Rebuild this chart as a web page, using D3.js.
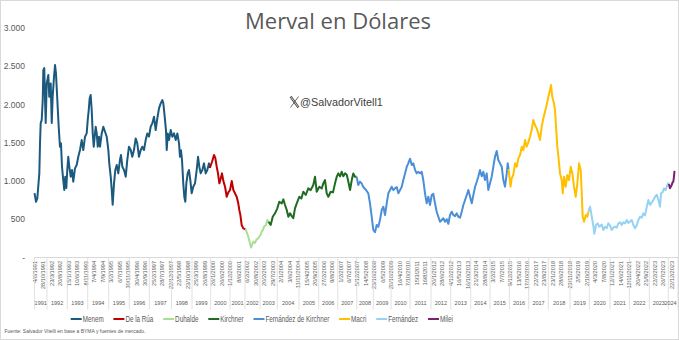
<!DOCTYPE html>
<html><head><meta charset="utf-8">
<script src="https://cdn.jsdelivr.net/npm/d3@7"></script>
<style>
html,body{margin:0;padding:0;background:#fff;}
svg{display:block;font-family:'Liberation Sans',Arial,sans-serif;}
</style></head><body>
<svg id="chart" width="679" height="340"></svg>
<script>
// ---------------- DATA ----------------
const chartTitle = "Merval en Dólares";
const handle = "@SalvadorVitell1";
const sourceNote = "Fuente: Salvador Vitelli en base a BYMA y fuentes de mercado.";

const presidents = ["Menem", "De la Rúa", "Duhalde", "Kirchner", "Fernández de Kirchner", "Macri", "Fernández", "Milei"];
// trading-day index (category position) at which each term starts
const presidentStart = [0, 2066, 2485, 2757, 3795, 5586, 6527, 7475];
const presidentColors = ["#1b5a7e", "#c00000", "#a9de95", "#1e6b22", "#4a8fd8", "#ffc000", "#93d3f3", "#7a216f"];

// sampled series: trading-day index and Merval in USD
const day = [
  0,18,33,57,65,73,85,97,104,115,124,132,144,163,174,191,203,214,230,242,253,269,285,300,312,324,339,351,363,375,386,398,410,427,442,457,477,497,516,536,556,575,595,615,627,639,650,662,674,686,698,709,721,733,745,760,772,792,811,831,851,870,881,898,910,921,937,952,969,987,1007,1019,1035,1055,1075,1093,1113,1134,1152,1172,1192,1211,1231,1251,1270,1290,1310,1329,1349,1369,1388,1408,1428,1447,1467,1487,1506,1518,1534,1549,1558,1570,1585,1605,1624,1644,1664,1683,1703,1714,1726,1738,1753,1765,1777,1789,1805,1820,1836,1852,1871,1891,1911,1927,1942,1958,1977,1997,2017,2036,2056,2066,
  2092,2115,2130,2147,2162,2178,2194,2209,2225,2245,2265,2284,2304,2324,2343,2362,2383,2401,2413,2425,2441,2460,2485,
  2498,2519,2539,2551,2566,2578,2598,2618,2637,2649,2665,2677,2692,2704,2728,2743,2757,
  2783,2807,2834,2861,2884,2913,2932,2952,2972,2991,3011,3031,3049,3069,3090,3120,3144,3167,3196,3226,3254,3285,3305,3325,3356,3384,3403,3423,3443,3462,3490,3517,3541,3561,3580,3600,3620,3639,3659,3679,3698,3718,3738,3756,3776,3795,
  3815,3835,3855,3874,3906,3933,3953,3973,3992,4012,4032,4051,4071,4091,4110,4130,4150,4169,4189,4209,4228,4248,4268,4287,4307,4327,4346,4366,4386,4404,4425,4445,4463,4484,4503,4522,4542,4562,4581,4601,4621,4640,4660,4680,4699,4719,4739,4758,4778,4798,4817,4837,4857,4876,4896,4916,4935,4955,4975,4994,5014,5034,5053,5073,5093,5112,5132,5152,5171,5191,5211,5229,5249,5269,5288,5308,5328,5347,5367,5387,5406,5426,5446,5465,5485,5505,5524,5544,5564,5576,5586,
  5609,5623,5642,5662,5682,5701,5721,5741,5760,5780,5799,5818,5838,5858,5877,5897,5917,5936,5956,5976,5995,6015,6035,6054,6074,6086,6101,6121,6133,6145,6160,6177,6192,6212,6224,6239,6259,6278,6298,6318,6337,6357,6377,6396,6416,6436,6448,6459,6475,6495,6514,6527,
  6546,6566,6586,6596,6616,6636,6655,6683,6702,6722,6742,6761,6781,6801,6820,6840,6860,6879,6899,6919,6938,6958,6978,6997,7017,7037,7056,7076,7096,7115,7135,7155,7174,7194,7214,7233,7253,7273,7292,7312,7332,7351,7370,7382,7400,7417,7435,7449,7465,7475,
  7487,7508,7518,7527,7535,7541
];
const merval = [
  841,728,772,1102,1494,1755,1794,2055,2447,2473,2055,1755,2273,2382,2098,2273,1755,2098,2360,2512,2404,2055,1707,1446,1490,1185,1011,881,1055,907,1142,1315,1185,1055,1142,989,1164,1207,1315,1403,1533,1403,1577,1620,1794,1925,2077,2121,1925,1620,1446,1577,1707,1620,1446,1577,1446,1620,1707,1642,1577,1403,1229,1055,881,690,968,1142,1207,1098,1272,1338,1185,1142,1055,1272,1446,1403,1315,1403,1555,1490,1315,1400,1446,1403,1533,1620,1580,1707,1751,1838,1664,1816,1947,2012,2055,2012,1838,1664,1403,1620,1533,1664,1577,1620,1533,1620,1490,1315,1400,1272,968,793,728,968,1098,1142,1011,838,924,968,1142,1315,1185,1098,1140,1229,1098,1142,1229,1170,
  1250,1338,1300,1185,1098,968,1030,1098,1000,924,793,850,881,1000,881,838,790,707,620,560,424,381,368,
  340,272,185,130,170,207,190,238,250,272,300,337,360,402,424,490,467,
  424,532,577,642,728,707,759,685,620,532,577,540,512,642,707,793,770,859,816,903,880,946,1055,859,924,900,968,1011,838,793,859,850,968,1055,1098,1060,1120,1060,1098,1080,989,881,1011,1098,1055,1055,
  946,990,968,920,881,838,707,532,359,330,424,400,490,620,663,555,707,838,881,924,880,903,920,838,880,924,1011,1098,1185,1229,1290,1207,1230,1142,1098,1120,1098,1120,1011,838,707,793,685,816,830,707,598,532,467,490,512,467,500,440,555,598,555,540,577,532,520,598,685,750,816,881,793,707,816,924,989,1055,1142,1060,1120,1011,1098,881,968,1055,1185,1315,1390,1272,1229,1185,1011,924,1098,1229,1150,
  924,1033,1080,1229,1185,1294,1338,1446,1400,1533,1446,1500,1577,1664,1794,1729,1686,1620,1533,1707,1816,1903,1990,2100,2186,2251,2098,2012,1925,1707,1446,1272,1098,1011,838,1055,924,1077,1011,1185,1100,924,793,968,1229,1142,838,532,467,555,532,600,
  663,532,402,310,424,446,402,430,359,400,381,446,420,359,390,402,390,446,460,424,460,446,490,450,470,490,424,381,420,490,532,520,577,550,663,750,685,720,750,793,820,750,663,838,850,903,880,924,968,960,
  903,946,980,989,1060,1130
];

const yTicks = [0, 500, 1000, 1500, 2000, 2500, 3000];

// date labels shown every 100 categories
const labelStep = 100;
const dateLabels = ["4/6/1991","28/10/1991","23/3/1992","20/8/1992","15/1/1993","10/6/1993","8/11/1993","7/4/1994","7/9/1994","3/2/1995","6/7/1995","30/11/1995","30/4/1996","30/9/1996","25/2/1997","28/7/1997","22/12/1997","22/5/1998","23/10/1998","25/3/1999","26/8/1999","26/1/2000","26/6/2000","1/12/2000","8/6/2001","6/2/2002","30/8/2002","20/2/2003","29/7/2003","2/1/2004","3/6/2004","11/11/2004","15/4/2005","20/9/2005","27/2/2006","9/8/2006","1/2/2007","6/7/2007","5/12/2007","14/5/2008","23/10/2008","6/5/2009","20/10/2009","16/4/2010","7/10/2010","15/3/2011","16/8/2011","20/1/2012","28/6/2012","4/12/2012","16/5/2013","16/10/2013","21/3/2014","28/8/2014","3/2/2015","7/7/2015","9/12/2015","13/5/2016","17/10/2016","22/3/2017","23/8/2017","23/1/2018","28/6/2018","23/11/2018","2/5/2019","2/10/2019","4/3/2020","7/8/2020","12/1/2021","14/6/2021","12/11/2021","20/4/2022","21/9/2022","22/2/2023","26/7/2023","22/12/2023"];

const years = [1991,1992,1993,1994,1995,1996,1997,1998,1999,2000,2001,2002,2003,2004,2005,2006,2007,2008,2009,2010,2011,2012,2013,2014,2015,2016,2017,2018,2019,2020,2021,2022,2023,2024];
const yearStart = [0,147,386,627,874,1117,1353,1614,1856,2076,2304,2480,2657,2861,3117,3349,3573,3797,3992,4201,4425,4672,4904,5140,5367,5595,5823,6054,6310,6537,6781,7009,7244,7468];
const lastDay = 7582;

// ---------------- CHART ----------------
const svg = d3.select("#chart");
const W = 679, H = 340;
const gray = "#595959", lineGray = "#d9d9d9";

svg.append("rect").attr("x",0.5).attr("y",0.5).attr("width",W-1).attr("height",H-1)
  .attr("fill","#fff").attr("stroke",lineGray).attr("stroke-width",1);

const x = d3.scaleLinear().domain([0, lastDay]).range([34.5, 678]);
const y = d3.scaleLinear().domain([0, 3000]).range([257.5, 27.7]);

// title
svg.append("text").attr("x",338).attr("y",28.5).attr("text-anchor","middle")
  .attr("fill",gray).style("font-size","22px").style("font-family","'Open Sans','Liberation Sans',sans-serif")
  .text(chartTitle);

// y axis
const loc = d3.formatLocale({decimal:",", thousands:".", grouping:[3], currency:["$",""]});
const fmt = loc.format(",");
const yAxis = svg.append("g").attr("transform","translate(25,0)")
  .call(d3.axisLeft(y).tickValues(yTicks).tickSize(0).tickPadding(0)
    .tickFormat(d => d === 0 ? "-  " : fmt(d)));
yAxis.select(".domain").remove();
yAxis.selectAll("text").attr("fill",gray).style("font-size","8.5px").style("font-family","'Liberation Sans',sans-serif");

// x axis with rotated date labels
const xAxis = svg.append("g").attr("transform",`translate(0,${y(0)})`)
  .call(d3.axisBottom(x).tickValues(dateLabels.map((d,i)=>i*labelStep)).tickSize(0)
    .tickFormat((d,i)=>dateLabels[i]));
xAxis.select(".domain").attr("stroke",lineGray).attr("d",`M${x(0)},0H${x(lastDay)}`);
xAxis.selectAll("text").attr("fill",gray).style("font-size","5.6px")
  .attr("y",0).attr("dy","0.35em").attr("x",-3.5)
  .attr("transform","rotate(-90)").style("text-anchor","end");

// year groups
const yearG = svg.append("g");
const bounds = yearStart.concat([lastDay]);
yearG.selectAll("line.sep").data(bounds).join("line").attr("class","sep")
  .attr("x1",d=>x(d)).attr("x2",d=>x(d)).attr("y1",y(0)).attr("y2",309.5)
  .attr("stroke",lineGray).attr("stroke-width",0.8);
yearG.selectAll("text").data(years).join("text")
  .attr("x",(d,i)=>{
    const a = x(bounds[i]), b = x(bounds[i+1]);
    return i === years.length-1 ? Math.min((a+b)/2, b-7.5) : (a+b)/2;
  })
  .attr("y",304.5).attr("text-anchor","middle").attr("fill",gray).style("font-size","5.5px")
  .text(d=>d);

// watermark
const wm = svg.append("g");
wm.append("path").attr("d","M290.5,96.5L298.5,107.5").attr("stroke","#444").attr("stroke-width",2.2).attr("fill","none");
wm.append("path").attr("d","M290.5,96.5L298.5,107.5").attr("stroke","#fff").attr("stroke-width",0.7).attr("fill","none");
wm.append("path").attr("d","M298.5,96.5L290.5,107.5").attr("stroke","#444").attr("stroke-width",0.8).attr("fill","none");
wm.append("text").attr("x",300).attr("y",105.5).attr("fill","#404040")
  .style("font-size","10.8px").text(handle);

// series segments
const points = day.map((d,i)=>({day:d, v:merval[i]}));
const line = d3.line().x(d=>x(d.day)).y(d=>y(d.v)).curve(d3.curveLinear);
presidents.forEach((p,i)=>{
  const s = presidentStart[i], e = i < presidents.length-1 ? presidentStart[i+1] : Infinity;
  const seg = points.filter(d=>d.day>=s && d.day<=e);
  svg.append("path").datum(seg).attr("d",line).attr("fill","none")
    .attr("stroke",presidentColors[i]).attr("stroke-width",2).attr("stroke-linejoin","round");
});

// legend (condensed text to mimic the narrow original font)
const leg = svg.append("g");
let lx = 70.7;
presidents.forEach((p,i)=>{
  leg.append("line").attr("x1",lx).attr("x2",lx+11).attr("y1",319).attr("y2",319)
    .attr("stroke",presidentColors[i]).attr("stroke-width",2);
  const t = leg.append("text").attr("x",lx+12).attr("y",322).attr("fill",gray)
    .style("font-size","8.6px").text(p);
  const w = t.node().getComputedTextLength() * 0.73;
  t.attr("textLength", w).attr("lengthAdjust","spacingAndGlyphs");
  lx = lx + 12 + w + 9.8;
});

// source
const src = svg.append("text").attr("x",4.5).attr("y",332.5).attr("fill",gray)
  .style("font-size","5.9px").text(sourceNote);
src.attr("textLength", src.node().getComputedTextLength()*0.85).attr("lengthAdjust","spacingAndGlyphs");
</script>
</body></html>
